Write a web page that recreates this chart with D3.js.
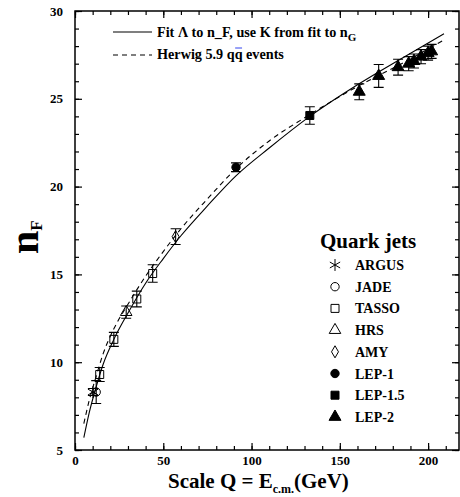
<!DOCTYPE html>
<html>
<head>
<meta charset="utf-8">
<script src="https://cdn.jsdelivr.net/npm/d3@7"></script>
<style>
  body { margin: 0; background: #fff; }
  svg text { font-family: "Liberation Serif", "Times New Roman", serif; font-weight: bold; }
</style>
</head>
<body>
<script>
// Global variables
var width = 460;
var height = 497;
var plotLeft = 75, plotRight = 459, plotTop = 11, plotBottom = 450;

// Data
var argusQ = [10.2], argusN = [8.3], argusErr = [0.2];
var jadeQ = [12], jadeN = [8.3], jadeErr = [0.65];
var tassoQ = [14, 22, 35, 44], tassoN = [9.3, 11.3, 13.6, 15.05], tassoErr = [0.4, 0.4, 0.45, 0.5];
var hrsQ = [29], hrsN = [12.85], hrsErr = [0.35];
var amyQ = [57], amyN = [17.15], amyErr = [0.45];
var lep1Q = [91.2], lep1N = [21.1], lep1Err = [0.25];
var lep15Q = [133], lep15N = [24.05], lep15Err = [0.5];
var lep2Q = [161, 172, 183, 189, 192, 196, 200, 202];
var lep2N = [25.4, 26.3, 26.8, 27.0, 27.15, 27.4, 27.6, 27.7];
var lep2Err = [0.45, 0.65, 0.45, 0.4, 0.4, 0.4, 0.4, 0.4];

var fitQ = [5, 8, 12, 16, 22, 30, 40, 50, 60, 75, 91, 110, 133, 160, 185, 209];
var fitN = [5.7, 7.1, 8.6, 9.9, 11.3, 12.8, 14.5, 15.9, 17.2, 18.9, 20.6, 22.2, 24.0, 25.8, 27.3, 28.7];
var herwigQ = [5, 8, 12, 16, 22, 30, 40, 50, 60, 75, 91, 110, 133, 160, 185, 209];
var herwigN = [6.5, 7.8, 9.2, 10.5, 11.9, 13.3, 14.9, 16.3, 17.6, 19.3, 21.0, 22.6, 24.1, 25.7, 27.0, 28.35];

var xMajor = [0, 50, 100, 150, 200];
var xMinor = d3.range(0, 220, 10);
var yMajor = [5, 10, 15, 20, 25, 30];
var yMinor = d3.range(5, 31, 1);

// Experiments: name, symbol, filled
var expNames = ["ARGUS", "JADE", "TASSO", "HRS", "AMY", "LEP-1", "LEP-1.5", "LEP-2"];
var expSymbols = [d3.symbolAsterisk, d3.symbolCircle, d3.symbolSquare, d3.symbolTriangle,
                  d3.symbolDiamond, d3.symbolCircle, d3.symbolSquare, d3.symbolTriangle];
var expSizes = [100, 55, 64, 58, 42, 55, 64, 62];
var expFilled = [false, false, false, false, false, true, true, true];
var expQ = [argusQ, jadeQ, tassoQ, hrsQ, amyQ, lep1Q, lep15Q, lep2Q];
var expN = [argusN, jadeN, tassoN, hrsN, amyN, lep1N, lep15N, lep2N];
var expErr = [argusErr, jadeErr, tassoErr, hrsErr, amyErr, lep1Err, lep15Err, lep2Err];

var svg = d3.select("body")
            .append("svg")
            .attr("width", width)
            .attr("height", height);

var xScale = d3.scaleLinear().domain([0, 217.5]).range([plotLeft, plotRight]);
var yScale = d3.scaleLinear().domain([5, 30]).range([plotBottom, plotTop]);

// Axes: ticks point inward on all four sides
function addAxis(axis, tr, values, size, labels, pad) {
  var g = svg.append("g")
     .attr("transform", tr)
     .call(axis.tickValues(values).tickSize(size).tickPadding(pad)
               .tickFormat(labels ? d3.format("d") : ""));
  g.select(".domain").remove();
  g.selectAll("line").attr("stroke", "#000").attr("stroke-width", 1.2);
  g.selectAll("text").attr("font-size", "13px").attr("fill", "#000")
   .style("font-family", "'Liberation Serif', serif").style("font-weight", "bold");
  return g;
}
addAxis(d3.axisBottom(xScale), "translate(0," + plotBottom + ")", xMinor, -4, false, 0);
addAxis(d3.axisBottom(xScale), "translate(0," + plotBottom + ")", xMajor, -7, true, 6);
addAxis(d3.axisTop(xScale), "translate(0," + plotTop + ")", xMinor, -4, false, 0);
addAxis(d3.axisTop(xScale), "translate(0," + plotTop + ")", xMajor, -7, false, 0);
addAxis(d3.axisLeft(yScale), "translate(" + plotLeft + ",0)", yMinor, -4, false, 0);
addAxis(d3.axisLeft(yScale), "translate(" + plotLeft + ",0)", yMajor, -7, true, 12);
addAxis(d3.axisRight(yScale), "translate(" + plotRight + ",0)", yMinor, -4, false, 0);
addAxis(d3.axisRight(yScale), "translate(" + plotRight + ",0)", yMajor, -7, false, 0);

svg.append("rect")
   .attr("x", plotLeft).attr("y", plotTop)
   .attr("width", plotRight - plotLeft).attr("height", plotBottom - plotTop)
   .attr("fill", "none").attr("stroke", "#000").attr("stroke-width", 1.5);

// Curves
var line = d3.line()
   .x(function(d) { return xScale(d[0]); })
   .y(function(d) { return yScale(d[1]); })
   .curve(d3.curveMonotoneX);

svg.append("path")
   .attr("d", line(d3.zip(fitQ, fitN)))
   .attr("fill", "none").attr("stroke", "#000").attr("stroke-width", 1.1);
svg.append("path")
   .attr("d", line(d3.zip(herwigQ, herwigN)))
   .attr("fill", "none").attr("stroke", "#000").attr("stroke-width", 1.1)
   .attr("stroke-dasharray", "5,4");

// Data points with error bars
expNames.forEach(function(name, i) {
  var pts = d3.zip(expQ[i], expN[i], expErr[i]);
  var g = svg.append("g").attr("class", "exp");
  pts.forEach(function(p) {
    var x = xScale(p[0]), y1 = yScale(p[1] + p[2]), y2 = yScale(p[1] - p[2]);
    g.append("path")
     .attr("d", "M" + x + "," + y1 + "V" + y2 + "M" + (x - 5) + "," + y1 + "H" + (x + 5) +
                "M" + (x - 5) + "," + y2 + "H" + (x + 5))
     .attr("stroke", "#000").attr("stroke-width", 1.1).attr("fill", "none");
  });
  g.selectAll("path.sym")
   .data(pts)
   .enter()
   .append("path")
   .attr("class", "sym")
   .attr("transform", function(d) { return "translate(" + xScale(d[0]) + "," + yScale(d[1]) + ")"; })
   .attr("d", d3.symbol().type(expSymbols[i]).size(expSizes[i]))
   .attr("fill", expFilled[i] ? "#000" : "none")
   .attr("stroke", "#000").attr("stroke-width", 1);
});

// Curve legend
svg.append("line").attr("x1", 113).attr("x2", 152).attr("y1", 32).attr("y2", 32)
   .attr("stroke", "#000").attr("stroke-width", 1.1);
svg.append("line").attr("x1", 113).attr("x2", 152).attr("y1", 55).attr("y2", 55)
   .attr("stroke", "#000").attr("stroke-width", 1.1).attr("stroke-dasharray", "5,4");

var t1 = svg.append("text").attr("x", 157).attr("y", 37).attr("font-size", "14.2px");
t1.append("tspan").text("Fit \u039B to n_F, use K from fit to n");
t1.append("tspan").attr("dy", 4).attr("font-size", "11px").text("G");

var t2 = svg.append("text").attr("x", 157).attr("y", 59).attr("font-size", "14.2px")
   .text("Herwig 5.9 qq events");
var s0 = t2.node().getSubStringLength(0, 12);
var s1 = t2.node().getSubStringLength(12, 1);
svg.append("line")
   .attr("x1", 157 + s0 + 0.5).attr("x2", 157 + s0 + s1 - 0.5)
   .attr("y1", 48).attr("y2", 48)
   .attr("stroke", "#3344ee").attr("stroke-width", 1);

// Experiments legend
svg.append("text").attr("x", 320).attr("y", 248).attr("font-size", "21px").text("Quark jets");
var leg = svg.selectAll("g.leg")
   .data(expNames)
   .enter()
   .append("g")
   .attr("class", "leg")
   .attr("transform", function(d, i) { return "translate(335," + (270 + i * 21.7) + ")"; });
leg.append("path")
   .attr("transform", "translate(0,-5)")
   .attr("d", function(d, i) { return d3.symbol().type(expSymbols[i]).size(expSizes[i])(); })
   .attr("fill", function(d, i) { return expFilled[i] ? "#000" : "none"; })
   .attr("stroke", "#000").attr("stroke-width", 1);
leg.append("text").attr("x", 20).attr("y", 0).attr("font-size", "14px").text(function(d) { return d; });

// Axis titles
var xt = svg.append("text").attr("x", 168).attr("y", 488).attr("font-size", "21px");
xt.append("tspan").text("Scale Q = E");
xt.append("tspan").attr("dy", 5).attr("font-size", "12px").text("c.m.");
xt.append("tspan").attr("dy", -5).text("(GeV)");

var yt = svg.append("text")
   .attr("transform", "translate(38,254) rotate(-90)")
   .attr("font-size", "42px");
yt.append("tspan").text("n");
yt.append("tspan").attr("dy", 4).attr("font-size", "17px").text("F");
</script>
</body>
</html>
